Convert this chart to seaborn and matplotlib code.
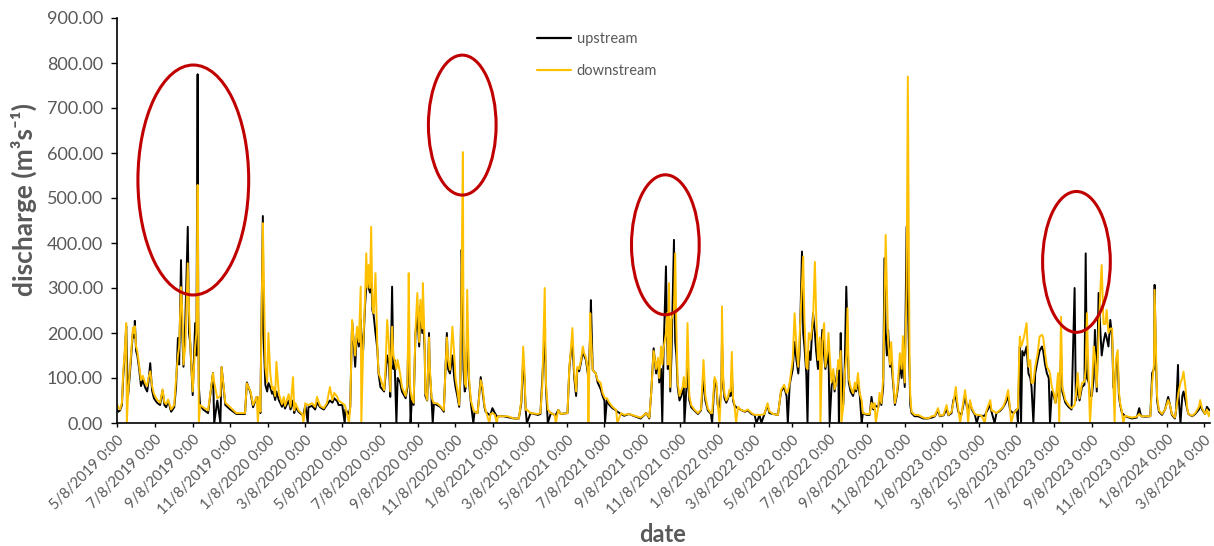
import matplotlib
matplotlib.use("Agg")
import matplotlib.pyplot as plt
import matplotlib.dates as mdates
from matplotlib.patches import Ellipse
import numpy as np
import pandas as pd
import seaborn as sns

# ---------------- data ----------------
start_date = "2019-05-08"
# days since 2019-05-08
day_offset = [
    0, 2, 5, 8, 10, 13, 15, 16, 18, 21, 26, 28, 29, 31, 33, 36, 39, 42, 46, 49,
    51, 54, 57, 60, 65, 70, 74, 77, 80, 83, 88, 93, 96, 99, 101, 104, 106, 108, 111, 115,
    117, 119, 123, 127, 129, 131, 132, 133, 135, 140, 148, 156, 158, 163, 168, 170, 176, 184, 194, 208,
    211, 217, 221, 227, 229, 231, 233, 234, 237, 238, 241, 244, 246, 249, 252, 254, 257, 259, 263, 268,
    271, 273, 279, 282, 286, 288, 290, 295, 301, 303, 306, 310, 311, 317, 322, 325, 330, 336, 341, 346,
    350, 353, 358, 360, 366, 370, 371, 377, 379, 382, 384, 387, 390, 393, 396, 397, 400, 403, 405, 407,
    409, 411, 413, 415, 417, 420, 423, 425, 428, 434, 436, 439, 442, 444, 447, 449, 451, 454, 456, 460,
    463, 469, 472, 473, 474, 476, 477, 479, 482, 485, 488, 491, 493, 496, 497, 500, 501, 504, 507, 508,
    511, 513, 515, 520, 526, 531, 536, 538, 541, 545, 548, 550, 553, 556, 558, 560, 562, 563, 565, 567,
    569, 572, 575, 579, 581, 586, 591, 594, 597, 599, 605, 607, 610, 614, 617, 619, 628, 635, 645, 653,
    657, 660, 662, 664, 666, 672, 684, 688, 691, 695, 697, 700, 705, 711, 713, 717, 721, 732, 735, 737,
    740, 743, 746, 748, 751, 754, 757, 759, 762, 765, 766, 769, 770, 773, 778, 781, 786, 789, 792, 793,
    796, 800, 805, 811, 813, 819, 824, 832, 841, 851, 860, 865, 868, 872, 876, 879, 881, 884, 886, 888,
    892, 894, 895, 897, 899, 901, 905, 907, 909, 911, 914, 917, 919, 921, 922, 925, 927, 930, 933, 938,
    944, 949, 953, 956, 960, 965, 967, 971, 974, 976, 979, 982, 983, 985, 987, 990, 993, 995, 997, 999,
    1001, 1003, 1006, 1009, 1014, 1020, 1025, 1031, 1036, 1039, 1044, 1047, 1052, 1057, 1060, 1066, 1074, 1079, 1084, 1088,
    1090, 1093, 1098, 1101, 1104, 1107, 1109, 1113, 1115, 1117, 1120, 1122, 1124, 1127, 1131, 1134, 1136, 1139, 1142, 1143,
    1146, 1149, 1151, 1154, 1156, 1158, 1161, 1164, 1166, 1169, 1172, 1173, 1176, 1177, 1180, 1182, 1185, 1187, 1189, 1192,
    1196, 1199, 1201, 1204, 1207, 1210, 1212, 1218, 1223, 1226, 1229, 1231, 1233, 1237, 1239, 1242, 1245, 1247, 1249, 1251,
    1253, 1256, 1258, 1261, 1264, 1267, 1269, 1272, 1275, 1277, 1280, 1283, 1285, 1287, 1288, 1289, 1291, 1296, 1302, 1310,
    1318, 1324, 1329, 1334, 1337, 1343, 1348, 1351, 1356, 1359, 1363, 1365, 1367, 1370, 1372, 1378, 1381, 1383, 1386, 1389,
    1394, 1397, 1400, 1405, 1410, 1413, 1419, 1421, 1426, 1429, 1435, 1440, 1444, 1448, 1451, 1453, 1457, 1462, 1464, 1466,
    1467, 1469, 1471, 1474, 1478, 1481, 1484, 1486, 1489, 1492, 1496, 1499, 1503, 1505, 1508, 1511, 1514, 1516, 1519, 1522,
    1525, 1529, 1531, 1534, 1536, 1541, 1546, 1551, 1556, 1558, 1561, 1564, 1568, 1572, 1574, 1576, 1579, 1581, 1584, 1587,
    1589, 1592, 1595, 1598, 1600, 1603, 1606, 1608, 1611, 1614, 1617, 1619, 1621, 1623, 1626, 1628, 1630, 1633, 1635, 1638,
    1649, 1657, 1661, 1664, 1671, 1679, 1682, 1685, 1686, 1688, 1690, 1693, 1698, 1703, 1708, 1711, 1714, 1719, 1721, 1724,
    1725, 1728, 1731, 1733, 1736, 1739, 1741, 1747, 1752, 1758, 1760, 1763, 1768, 1771, 1774, 1776,
]
upstream = [
    30, 25, 28, 40, 100, 160, 215, 150, 60, 110, 205, 190, 227, 160, 150, 120, 82, 95, 78, 70,
    90, 133, 72, 55, 45, 40, 72, 40, 35, 50, 25, 35, 80, 189, 130, 362, 200, 125, 225, 436,
    200, 177, 62, 222, 150, 775, 250, 80, 40, 30, 22, 111, 0, 50, 0, 124, 40, 30, 20, 20,
    90, 67, 35, 58, 50, 50, 22, 147, 460, 200, 85, 70, 89, 80, 65, 70, 51, 70, 51, 36,
    45, 32, 50, 30, 50, 22, 35, 25, 18, 18, 40, 0, 35, 38, 30, 45, 35, 30, 40, 50,
    45, 55, 48, 40, 40, 0, 30, 20, 36, 225, 190, 125, 205, 170, 230, 200, 162, 260, 300, 333,
    300, 290, 326, 250, 240, 200, 165, 110, 80, 70, 100, 150, 130, 58, 303, 120, 140, 0, 100, 90,
    70, 55, 80, 170, 120, 80, 0, 50, 40, 200, 240, 170, 260, 200, 250, 160, 60, 50, 200, 120,
    55, 0, 44, 40, 35, 25, 200, 120, 110, 150, 100, 80, 60, 36, 100, 385, 250, 120, 70, 80,
    200, 90, 44, 0, 25, 22, 102, 70, 36, 25, 18, 20, 33, 22, 15, 15, 15, 13, 10, 10,
    45, 140, 100, 30, 0, 22, 18, 20, 96, 200, 80, 0, 22, 18, 18, 29, 20, 22, 120, 150,
    180, 100, 60, 120, 115, 135, 160, 150, 140, 110, 100, 200, 273, 118, 110, 90, 75, 60, 50, 0,
    51, 40, 33, 28, 25, 20, 16, 20, 15, 10, 22, 10, 67, 166, 110, 140, 90, 120, 0, 150,
    348, 180, 120, 200, 70, 150, 407, 180, 150, 80, 50, 60, 70, 80, 0, 70, 120, 50, 35, 28,
    20, 28, 100, 50, 28, 20, 0, 95, 80, 40, 35, 75, 180, 90, 55, 45, 55, 65, 60, 110,
    50, 40, 35, 33, 29, 25, 28, 20, 18, 0, 18, 0, 20, 40, 22, 20, 18, 70, 80, 60,
    0, 85, 120, 180, 140, 110, 150, 381, 200, 170, 110, 0, 160, 140, 244, 200, 160, 120, 150, 130,
    207, 150, 120, 140, 160, 0, 80, 110, 70, 100, 130, 0, 200, 130, 40, 90, 303, 200, 90, 70,
    60, 80, 70, 90, 60, 0, 22, 18, 18, 58, 30, 40, 38, 35, 55, 40, 80, 366, 200, 150,
    207, 125, 140, 89, 40, 60, 80, 130, 100, 150, 80, 436, 280, 150, 100, 40, 22, 15, 15, 10,
    10, 12, 15, 28, 15, 17, 30, 17, 22, 51, 60, 40, 25, 20, 18, 60, 35, 30, 45, 30,
    18, 0, 16, 16, 16, 25, 40, 25, 0, 22, 27, 35, 45, 60, 30, 25, 22, 30, 0, 130,
    170, 0, 160, 150, 170, 110, 100, 80, 0, 110, 140, 160, 170, 160, 130, 110, 100, 0, 70, 60,
    45, 80, 50, 150, 70, 45, 36, 30, 300, 50, 80, 50, 80, 85, 377, 100, 90, 60, 60, 100,
    207, 70, 289, 200, 150, 180, 200, 190, 170, 229, 190, 80, 70, 120, 140, 60, 40, 22, 20, 15,
    10, 12, 33, 15, 14, 15, 111, 120, 307, 150, 50, 25, 18, 30, 58, 40, 18, 10, 30, 129,
    60, 0, 60, 70, 50, 30, 20, 15, 20, 30, 40, 30, 20, 36, 30, 28,
]
downstream = [
    42, 35, 30, 45, 110, 170, 222, 0, 65, 120, 212, 200, 215, 170, 160, 128, 95, 105, 88, 82,
    100, 115, 82, 65, 52, 45, 75, 46, 42, 52, 30, 40, 100, 150, 170, 302, 250, 130, 170, 355,
    250, 180, 70, 170, 200, 529, 300, 0, 40, 35, 28, 111, 90, 55, 60, 124, 45, 35, 22, 22,
    88, 70, 40, 58, 0, 58, 25, 140, 444, 369, 125, 90, 200, 111, 75, 80, 60, 136, 65, 42,
    58, 38, 64, 36, 102, 28, 44, 28, 20, 0, 44, 40, 40, 44, 36, 58, 38, 33, 44, 80,
    51, 67, 58, 50, 44, 40, 36, 0, 36, 229, 193, 150, 214, 180, 303, 0, 170, 274, 377, 300,
    351, 300, 436, 260, 244, 333, 170, 111, 100, 73, 111, 229, 170, 70, 214, 150, 140, 120, 140, 110,
    80, 60, 89, 200, 333, 89, 70, 55, 45, 207, 289, 180, 274, 210, 311, 170, 67, 51, 190, 130,
    58, 50, 44, 44, 37, 28, 190, 140, 118, 214, 150, 100, 73, 40, 110, 330, 602, 200, 89, 80,
    296, 100, 50, 30, 25, 22, 95, 80, 40, 28, 0, 20, 22, 18, 0, 15, 15, 15, 10, 10,
    51, 170, 120, 29, 30, 22, 20, 22, 80, 300, 89, 30, 22, 18, 0, 29, 20, 22, 125, 155,
    211, 111, 70, 125, 120, 140, 170, 155, 145, 118, 0, 244, 200, 118, 110, 95, 89, 67, 58, 55,
    55, 45, 36, 29, 0, 22, 18, 20, 16, 12, 22, 12, 67, 160, 120, 145, 100, 170, 130, 165,
    200, 244, 130, 311, 80, 230, 250, 377, 207, 90, 60, 73, 80, 102, 80, 80, 222, 60, 40, 30,
    22, 30, 140, 60, 32, 22, 22, 102, 90, 45, 0, 80, 259, 100, 65, 50, 58, 73, 70, 158,
    55, 44, 0, 36, 29, 26, 30, 22, 18, 18, 18, 18, 20, 44, 26, 20, 18, 73, 85, 67,
    70, 89, 140, 244, 170, 125, 185, 300, 370, 230, 125, 120, 200, 185, 230, 358, 244, 140, 190, 0,
    180, 222, 125, 155, 200, 150, 90, 120, 75, 90, 140, 120, 160, 0, 36, 100, 150, 255, 100, 80,
    66, 90, 75, 111, 65, 50, 22, 20, 20, 45, 33, 44, 0, 36, 67, 44, 100, 250, 418, 300,
    180, 130, 180, 100, 44, 65, 90, 155, 120, 193, 90, 300, 770, 300, 120, 60, 25, 18, 18, 12,
    10, 15, 16, 33, 16, 18, 40, 18, 25, 45, 80, 50, 30, 0, 18, 73, 40, 0, 51, 33,
    20, 18, 18, 16, 0, 29, 51, 28, 25, 22, 29, 36, 51, 73, 33, 0, 22, 29, 33, 155,
    192, 170, 177, 193, 222, 125, 140, 89, 90, 125, 155, 192, 196, 190, 155, 125, 118, 110, 80, 67,
    44, 111, 0, 236, 80, 51, 40, 33, 40, 60, 111, 55, 89, 92, 120, 244, 89, 0, 70, 170,
    150, 80, 200, 300, 351, 220, 220, 251, 200, 210, 210, 89, 0, 140, 162, 70, 44, 25, 0, 16,
    12, 14, 20, 15, 15, 15, 90, 130, 296, 180, 60, 28, 20, 30, 51, 40, 20, 12, 30, 60,
    70, 89, 100, 114, 80, 33, 20, 16, 22, 36, 51, 33, 20, 30, 15, 25,
]
series_names = ["upstream", "downstream"]
y_ticks = [0, 100, 200, 300, 400, 500, 600, 700, 800, 900]
tick_months_start, tick_months_end = "2019-05-01", "2024-03-01"   # ticks on the 8th, every 2 months

# circled events: (center day offset, center value, width in days, height in m3/s)
circle_centers_day = [124, 561, 891, 1559]
circle_centers_val = [540, 662, 396, 358]
circle_widths_day = [180, 110, 110, 110]
circle_heights_val = [511, 311, 311, 313]

# ---------------- build frame ----------------
t0 = pd.Timestamp(start_date)
dates = t0 + pd.to_timedelta(day_offset, unit="D")
df = pd.DataFrame({"date": dates, "upstream": upstream, "downstream": downstream})
long_df = df.melt(id_vars="date", value_vars=series_names,
                  var_name="series", value_name="discharge")

# ---------------- style ----------------
sns.set_style("white")
plt.rcParams["font.family"] = ["Lato", "DejaVu Sans"]
gray = "#595959"

fig = plt.figure(figsize=(12.14, 5.46), dpi=100)
ax = fig.add_axes([117 / 1214, 1 - 423 / 546, (1210 - 117) / 1214, (423 - 18) / 546])

sns.lineplot(data=long_df, x="date", y="discharge", hue="series",
             hue_order=series_names,
             palette={"upstream": "#000000", "downstream": "#FFC000"},
             linewidth=1.4, ax=ax, estimator=None, sort=True)

# axes limits and ticks
ax.set_xlim(t0, dates[-1])
ax.set_ylim(0, 900)
ax.set_yticks(y_ticks)
ax.set_yticklabels([f"{v:.2f}" for v in y_ticks], color=gray, fontsize=13)

xt = pd.date_range(tick_months_start, tick_months_end, freq="2MS") + pd.Timedelta(days=7)
ax.set_xticks(xt)
ax.set_xticklabels([f"{d.month}/{d.day}/{d.year} 0:00" for d in xt],
                   rotation=45, ha="right", va="top", rotation_mode="anchor",
                   color=gray, fontsize=10.6)

ax.tick_params(axis="y", direction="out", length=4, width=1, color="black", pad=6, left=True)
ax.tick_params(axis="x", direction="out", length=3, width=1, color="black", pad=4, bottom=True)

for side in ["top", "right"]:
    ax.spines[side].set_visible(False)
for side in ["left", "bottom"]:
    ax.spines[side].set_color("black")
    ax.spines[side].set_linewidth(1.2)

ax.set_ylabel("discharge (m³s⁻¹)", fontsize=19, fontweight="bold", color=gray)
ax.yaxis.set_label_coords(-0.073, (423 - 199) / 405)
ax.set_xlabel("date", fontsize=17, fontweight="bold", color=gray)
ax.xaxis.set_label_coords(0.4995, (423 - 523) / 405)
ax.xaxis.label.set_va("top")

# legend
handles, labels = ax.get_legend_handles_labels()
for h in handles:
    h.set_linewidth(1.6)
leg = ax.legend(handles, labels, loc="upper left",
                bbox_to_anchor=(524 / 1214, 1 - 19 / 546),
                bbox_transform=fig.transFigure, frameon=False,
                fontsize=10.5, handlelength=2.3, handletextpad=0.4,
                labelspacing=1.2)
for txt in leg.get_texts():
    txt.set_color(gray)

# red ellipses around the events
for cd, cv, w, h in zip(circle_centers_day, circle_centers_val,
                        circle_widths_day, circle_heights_val):
    cx = mdates.date2num(t0 + pd.Timedelta(days=cd))
    ax.add_patch(Ellipse((cx, cv), width=w, height=h, fill=False,
                         edgecolor="#C00000", linewidth=2.2, zorder=5, clip_on=False))

fig.savefig("out.png", dpi=100)
